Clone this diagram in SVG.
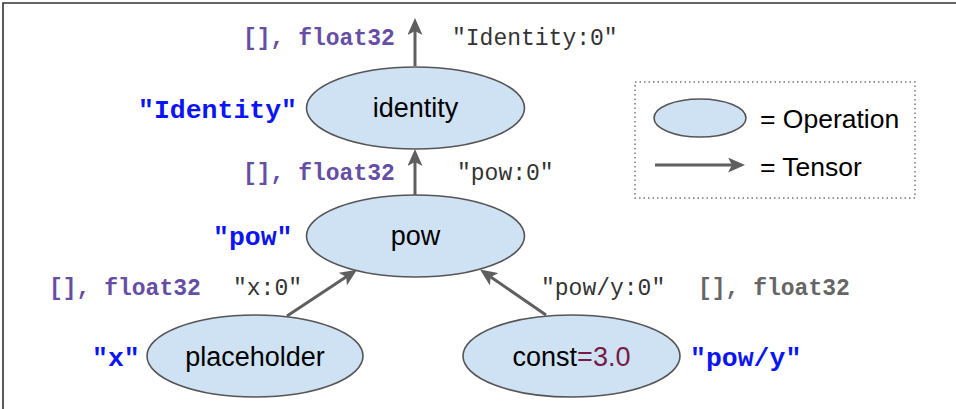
<svg xmlns="http://www.w3.org/2000/svg" width="956" height="409" viewBox="0 0 956 409">
<style>
.op{fill:#cfe2f3;stroke:#555;stroke-width:1.6}
.edge{stroke:#5f5f5f;stroke-width:3;fill:none}
.lbl{font-family:"Liberation Sans",Arial,sans-serif;font-size:27px;fill:#000;text-anchor:middle}
.lg{font-family:"Liberation Sans",Arial,sans-serif;font-size:26.5px;fill:#000}
.mono{font-family:"Liberation Mono","Courier New",monospace;font-size:23px}
.type{font-weight:bold;fill:#654ea3}
.type2{font-weight:bold;fill:#666}
.tname{fill:#333}
.name{font-family:"Liberation Mono","Courier New",monospace;font-size:26.5px;font-weight:bold;fill:#0a14f5}
</style>
<defs>
<marker id="ah" markerUnits="userSpaceOnUse" markerWidth="17" markerHeight="15" viewBox="0 0 17 15" refX="11" refY="7.5" orient="auto">
<path d="M0,0 L17,7.5 L0,15 L4,7.5 Z" fill="#5f5f5f"/>
</marker>
</defs>
<path d="M3,409 V3 H956" fill="none" stroke="#333" stroke-width="1.6"/>
<g id="connectors">
<line class="edge" x1="415" y1="66" x2="415" y2="24" marker-end="url(#ah)"/>
<line class="edge" x1="415" y1="195" x2="415" y2="155" marker-end="url(#ah)"/>
<line class="edge" x1="287" y1="316" x2="352" y2="273" marker-end="url(#ah)"/>
<line class="edge" x1="546" y1="315" x2="485" y2="273" marker-end="url(#ah)"/>
</g>
<g id="labels">
<text class="mono type" x="243" y="45">[], float32</text>
<text class="mono tname" x="452" y="45">"Identity:0"</text>
<text class="mono type" x="243" y="180">[], float32</text>
<text class="mono tname" x="457" y="180">"pow:0"</text>
<text class="mono type" x="49" y="295">[], float32</text>
<text class="mono tname" x="233" y="295">"x:0"</text>
<text class="mono tname" x="541" y="295">"pow/y:0"</text>
<text class="mono type2" x="698" y="295">[], float32</text>
</g>
<g id="identity">
<ellipse class="op" cx="415.5" cy="108" rx="109" ry="41"/>
<text class="lbl" x="415.5" y="117">identity</text>
<text class="name" x="138" y="118">"Identity"</text>
</g>
<g id="pow">
<ellipse class="op" cx="415.5" cy="236" rx="109" ry="41"/>
<text class="lbl" x="415.5" y="245">pow</text>
<text class="name" x="213" y="245">"pow"</text>
</g>
<g id="x">
<ellipse class="op" cx="255" cy="356" rx="108" ry="41"/>
<text class="lbl" x="255" y="366">placeholder</text>
<text class="name" x="92" y="366">"x"</text>
</g>
<g id="pow_y">
<ellipse class="op" cx="571.5" cy="356" rx="108.5" ry="41"/>
<text class="lbl" x="571.5" y="366">const<tspan fill="#741b47">=3.0</tspan></text>
<text class="name" x="690" y="366">"pow/y"</text>
</g>
<g id="legend">
<rect x="635" y="82" width="280" height="116" fill="none" stroke="#777" stroke-width="1.5" stroke-dasharray="1.5,3"/>
<ellipse class="op" cx="700" cy="118" rx="46" ry="19"/>
<text class="lg" x="760" y="128">= Operation</text>
<line class="edge" x1="655" y1="165" x2="739" y2="165" marker-end="url(#ah)"/>
<text class="lg" x="760" y="176">= Tensor</text>
</g>
</svg>
